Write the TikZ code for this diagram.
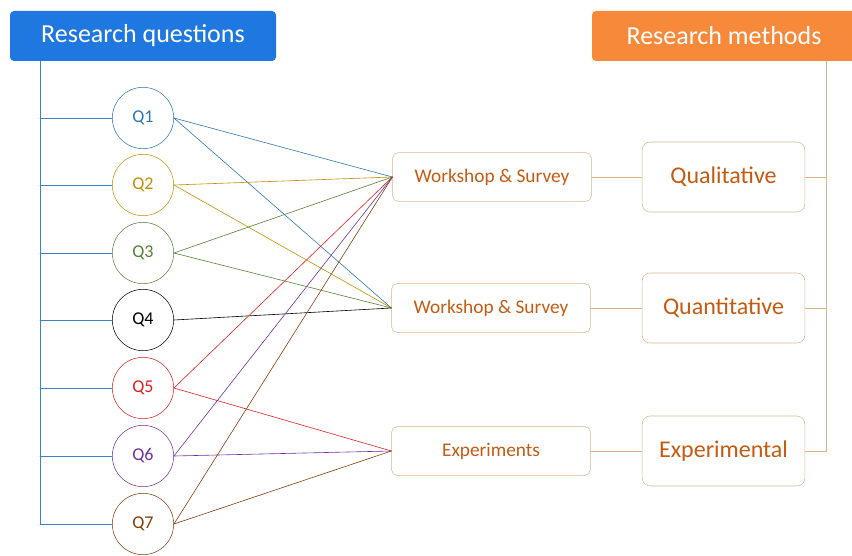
\documentclass[tikz,border=0pt]{standalone}
\usepackage{fontspec}
\setmainfont{Carlito}
\usetikzlibrary{positioning}
\definecolor{qblue}{HTML}{1F78E0}
\definecolor{morange}{HTML}{F7893B}
\definecolor{tan}{HTML}{D8B48E}
\definecolor{brn}{HTML}{C55A11}
\definecolor{treeblue}{HTML}{3C82C8}
\definecolor{c1}{HTML}{2E75B6}
\definecolor{c2}{HTML}{BF9000}
\definecolor{c3}{HTML}{548235}
\definecolor{c4}{HTML}{000000}
\definecolor{c5}{HTML}{E0201F}
\definecolor{c6}{HTML}{7030A0}
\definecolor{c7}{HTML}{843C0C}
\begin{document}
\begin{tikzpicture}[x=0.75pt, y=-0.75pt, line join=round, line cap=round]
	\tikzset{hd/.style={rounded corners=3pt,text=white,font=\fontsize{19.5}{22}\selectfont,minimum height=37.5pt,inner sep=0pt},
		q/.style={circle,draw,minimum size=46pt,inner sep=0pt,font=\fontsize{13.5}{15}\selectfont},
		m/.style={draw=tan,rounded corners=4pt,text=brn,minimum width=149pt,minimum height=36.5pt,inner sep=0pt,font=\fontsize{14.5}{16}\selectfont},
		r/.style={draw=tan,rounded corners=6pt,text=brn,minimum width=122pt,minimum height=52.5pt,inner sep=0pt,font=\fontsize{18}{20}\selectfont}}
	\useasboundingbox(0,0)rectangle(852,556);
	% headers
	\node[hd,fill=qblue,minimum width=199.5pt](H1)at(143,36){Research questions};
	\node[hd,fill=morange,minimum width=198pt](H2)at(724,36){Research methods};
	% questions
	\foreach \i/\y in {1/118,2/185,3/253,4/320,5/388,6/456,7/524}
		\node[q,draw=c\i,text=c\i](Q\i)at(143,\y){Q\i};
	% methods
	\node[m](W1)at(492,177){Workshop \& Survey};
	\node[m](W2)at(491,308){Workshop \& Survey};
	\node[m](E)at(491,451){Experiments};
	\node[r](R1)at(723.5,177){Qualitative};
	\node[r](R2)at(723.5,308){Quantitative};
	\node[r](R3)at(723.5,451){Experimental};
	% left tree
	\coordinate(T)at(40,61);
	\coordinate(B)at(40,524);
	\draw[treeblue,thin](T)--(B);
	\foreach \i in {1,...,7}
		\draw[treeblue,thin](Q\i.west)--(Q\i.west-|T);
	% right tree
	\coordinate(S)at(826,61);
	\draw[tan,thin](S)--(R3.east-|S)--(R3.east);
	\foreach \x in {R1,R2}
		\draw[tan,thin](\x.east)--(\x.east-|S);
	\foreach \x/\y in {W1/R1,W2/R2,E/R3}
		\draw[tan,thin](\x)--(\y);
	% links
	\foreach \x/\y in {
		1/W1,1/W2,
		2/W1,2/W2,
		3/W1,3/W2,
		4/W2,
		5/W1,5/E,
		6/W1,6/E,
		7/W1,7/E}
	\draw[c\x,line width=0.45pt](Q\x.east)--(\y.west);
\end{tikzpicture}
\end{document}
